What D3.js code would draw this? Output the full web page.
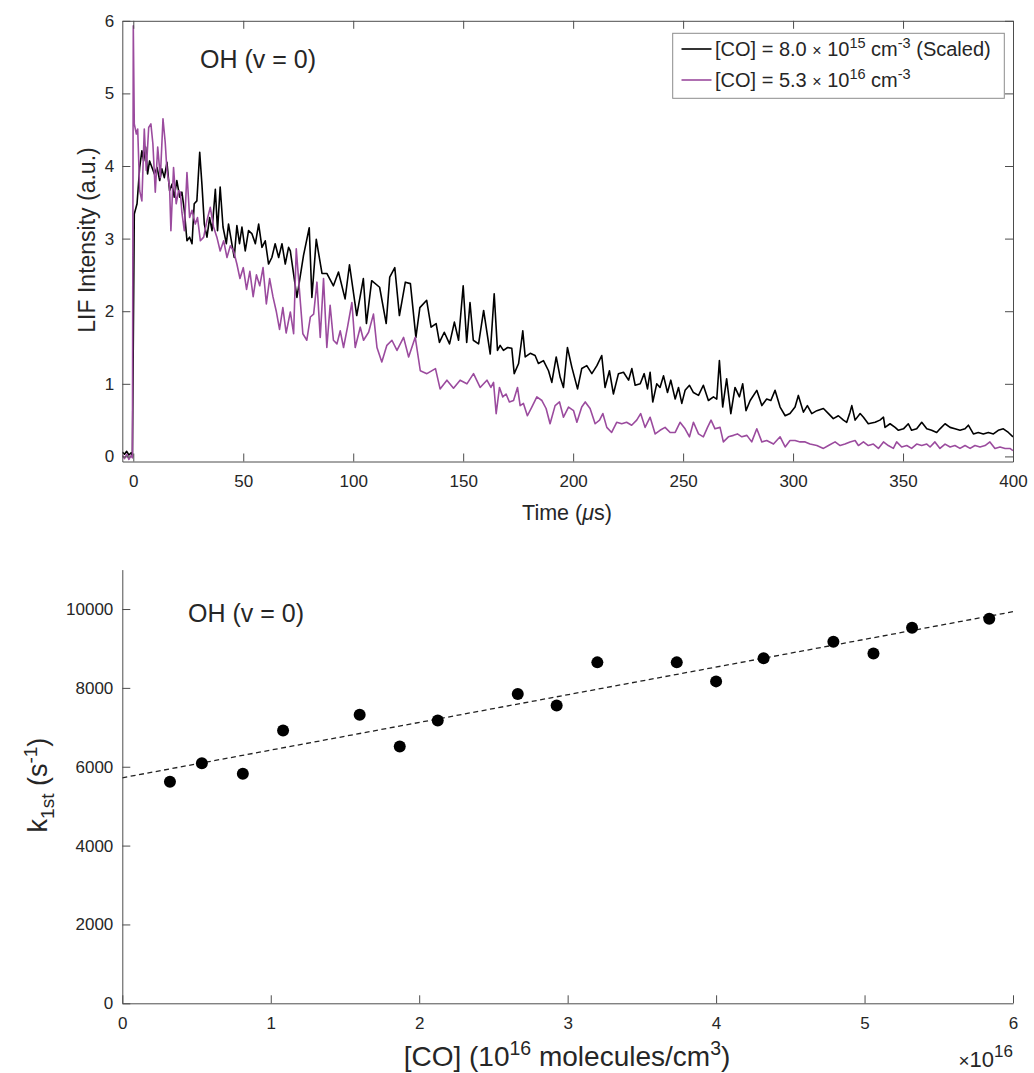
<!DOCTYPE html>
<html>
<head>
<meta charset="utf-8">
<script src="https://cdn.jsdelivr.net/npm/d3@7"></script>
<style>
  body { margin: 0; background: #fff; }
  text { font-family: "Liberation Sans", Arial, Helvetica, sans-serif; fill: #262626; }
</style>
</head>
<body>
<svg id="fig" width="1034" height="1073"></svg>
<script>
// ---------- Panel (a): OH (v = 0) LIF decay traces, [time µs, intensity a.u.] ----------
const lowCoTrace = [
[-5,0.06],[-4,0.03],[-3,0.07],[-2,0.02],[-1,0.05],[-0.4,0.0],[0.45,3.34],[1.7,3.48],[2.9,3.98],[3.9,4.21],[4.7,4.07],[5.6,4.26],[6.5,3.89],[7.4,4.07],[8.5,3.98],[9.6,3.89],[10.8,3.98],[12.0,3.80],[13.0,3.96],[14.1,3.84],[15.3,4.05],[16.5,3.66],[17.6,3.75],[18.6,3.57],[19.8,3.80],[21.1,3.57],[22.1,3.64],[23.2,3.39],[24.4,2.97],[25.6,3.02],[26.7,2.93],[27.7,3.48],[28.9,3.52],[30.2,4.19],[31.2,3.75],[32.3,3.20],[33.5,3.02],[34.7,3.29],[35.8,3.11],[37.3,3.68],[38.3,3.11],[39.5,3.71],[40.8,3.16],[42.3,2.93],[43.3,3.20],[44.8,2.93],[45.9,2.74],[47.1,3.18],[48.3,2.93],[49.4,3.16],[50.9,2.83],[52.4,3.11],[53.9,3.07],[55.5,2.93],[57.0,3.20],[58.5,2.88],[60.0,2.97],[61.5,2.65],[63.0,2.74],[64.5,2.93],[66.1,2.74],[67.6,2.93],[69.1,2.65],[70.6,2.88],[71.4,2.83],[74.4,2.19],[77.4,2.77],[80.0,3.15],[81.2,2.19],[83.2,2.99],[85.8,2.52],[88.0,2.52],[91.0,2.35],[93.3,2.54],[96.3,2.17],[98.3,2.64],[101.6,1.94],[104.6,2.45],[106.0,1.83],[108.4,2.42],[112.0,2.33],[115.0,1.83],[116.6,2.47],[118.9,2.60],[121.0,1.94],[123.7,2.40],[126.0,2.38],[128.5,1.64],[130.3,2.05],[133.4,2.15],[135.4,1.78],[137.7,1.83],[139.2,1.57],[141.4,1.71],[143.8,1.55],[146.0,1.85],[147.9,1.60],[150.0,2.35],[151.6,1.57],[153.1,2.12],[154.6,1.60],[157.0,1.55],[159.3,2.01],[162.3,1.41],[164.1,2.24],[165.6,1.46],[166.8,1.53],[168.3,1.46],[170.2,1.50],[172.1,1.49],[173.2,1.14],[175.2,1.28],[177.1,1.73],[178.2,1.37],[180.5,1.42],[182.7,1.39],[184.2,1.28],[186.5,1.32],[188.8,1.18],[190.3,1.02],[192.3,1.37],[194.1,1.09],[195.6,0.95],[197.4,1.50],[199.4,1.23],[202.0,0.93],[203.9,1.21],[206.2,1.25],[208.5,1.14],[210.8,1.25],[213.0,1.39],[214.5,0.95],[216.5,1.18],[218.3,0.86],[220.6,1.14],[222.9,1.16],[225.2,1.05],[226.7,1.21],[228.2,0.98],[230.5,1.00],[232.3,1.14],[233.8,0.93],[235.0,1.16],[236.2,0.75],[238.0,1.00],[239.5,0.95],[241.1,1.11],[242.9,0.88],[244.4,1.05],[246.4,0.79],[247.9,0.95],[249.4,0.73],[250.9,0.91],[252.9,0.98],[254.7,0.88],[257.0,0.84],[259.2,0.98],[261.5,0.77],[263.8,0.82],[265.3,0.79],[266.5,1.32],[268.0,0.68],[269.8,1.07],[271.7,0.59],[273.6,0.95],[275.6,0.82],[277.1,1.00],[278.6,0.63],[280.5,0.77],[283.5,0.91],[285.8,0.70],[288.0,0.79],[289.9,0.77],[291.8,0.91],[294.1,0.68],[296.4,0.56],[298.6,0.59],[300.9,0.68],[302.4,0.84],[304.7,0.61],[306.5,0.70],[308.5,0.59],[310.8,0.63],[313.8,0.66],[316.1,0.59],[318.3,0.52],[320.6,0.56],[322.9,0.50],[324.4,0.47],[325.9,0.61],[326.7,0.70],[328.2,0.50],[330.5,0.59],[332.0,0.54],[334.2,0.45],[337.3,0.47],[339.5,0.50],[341.1,0.54],[341.8,0.40],[344.1,0.45],[346.4,0.40],[347.9,0.36],[350.2,0.38],[352.4,0.45],[353.9,0.36],[356.2,0.38],[358.5,0.47],[360.8,0.38],[363.0,0.36],[365.3,0.33],[366.8,0.38],[369.1,0.45],[371.4,0.40],[373.6,0.38],[375.9,0.36],[378.2,0.38],[379.7,0.43],[382.0,0.31],[384.2,0.33],[386.5,0.31],[388.8,0.33],[391.1,0.31],[393.3,0.36],[395.6,0.38],[397.9,0.33],[400,0.27]
];

const highCoTrace = [
[-5,0.02],[-4,-0.03],[-3,0.03],[-2,-0.04],[-1,0.01],[-0.4,-0.02],[0,5.93],[0.45,4.58],[1.4,4.44],[2.0,4.51],[2.9,3.66],[3.9,3.52],[5.0,4.51],[5.9,3.94],[7.0,4.53],[8.0,4.58],[8.9,4.31],[10.0,3.64],[11.1,4.26],[12.3,3.84],[13.5,4.65],[14.5,4.33],[15.3,3.94],[16.5,3.71],[17.1,3.11],[18.3,3.98],[19.5,3.48],[20.6,3.66],[21.4,3.64],[22.1,3.36],[23.2,3.11],[24.4,3.91],[25.6,3.29],[26.7,3.39],[28.2,3.20],[29.2,3.29],[30.5,2.97],[32.0,3.02],[33.5,3.25],[35.0,3.43],[36.5,3.16],[38.0,3.02],[39.5,2.83],[41.1,2.97],[42.6,2.74],[44.1,2.90],[45.6,2.83],[47.1,2.65],[48.5,2.45],[50,2.6],[51.5,2.3],[53,2.55],[54.5,2.2],[56,2.5],[57.5,2.35],[59,2.6],[60.5,2.1],[62,2.45],[63.5,2.2],[65,2.0],[66.5,1.75],[68,2.05],[69.5,1.7],[71.4,1.99],[72.9,1.69],[74.1,2.86],[75.9,2.15],[77.1,1.69],[78.9,1.60],[80.5,1.92],[82.0,1.96],[83.5,2.40],[85.0,1.64],[86.5,2.45],[88.0,1.50],[89.5,2.08],[91.0,1.60],[92.6,1.55],[94.1,1.73],[95.6,1.50],[97.4,1.78],[99.4,2.12],[100.9,1.50],[103.2,1.78],[104.7,1.60],[107.0,1.71],[109.2,1.96],[110.8,1.50],[113.0,1.30],[115.3,1.53],[117.6,1.60],[119.9,1.46],[122.9,1.64],[125.2,1.37],[128.2,1.64],[130.5,1.18],[133.5,1.14],[137.4,1.21],[139.5,0.93],[142.6,1.05],[145.6,0.94],[148.6,1.05],[151.7,1.00],[154.7,1.14],[157.7,0.95],[160.8,1.05],[162.6,0.95],[163.8,1.02],[165.0,0.59],[166.5,0.95],[168.0,0.82],[169.5,0.86],[171.0,0.75],[172.9,0.77],[174.7,0.95],[175.9,0.70],[177.4,0.73],[179.2,0.56],[181.2,0.68],[183.5,0.82],[185.8,0.77],[187.7,0.66],[189.5,0.45],[191.8,0.70],[193.8,0.75],[195.6,0.54],[197.9,0.68],[200.2,0.63],[201.7,0.47],[203.9,0.68],[205.5,0.75],[207.7,0.66],[210.0,0.45],[212.0,0.50],[213.5,0.59],[215.3,0.40],[217.5,0.33],[219.8,0.47],[222.1,0.45],[224.3,0.47],[226.6,0.43],[228.9,0.50],[230.7,0.59],[232.7,0.40],[235.0,0.54],[237.3,0.31],[239.5,0.36],[241.8,0.40],[244.1,0.33],[246.4,0.33],[248.6,0.47],[250.9,0.38],[252.9,0.27],[254.7,0.47],[257.0,0.31],[259.2,0.27],[261.1,0.40],[262.7,0.50],[264.5,0.38],[266.8,0.40],[268.3,0.20],[270.6,0.27],[272.9,0.29],[274.7,0.31],[276.7,0.27],[279.0,0.29],[281.2,0.20],[283.5,0.38],[285.8,0.20],[288.0,0.22],[291.1,0.17],[294.1,0.27],[296.4,0.13],[298.6,0.22],[300.9,0.22],[303.2,0.20],[305.5,0.20],[307.7,0.17],[310.8,0.15],[313.8,0.11],[316.1,0.15],[319.1,0.20],[321.4,0.15],[323.6,0.17],[325.9,0.20],[328.2,0.22],[329.7,0.15],[332.0,0.20],[334.2,0.15],[336.5,0.17],[338.8,0.11],[341.1,0.20],[343.3,0.15],[345.6,0.11],[347.1,0.20],[349.4,0.13],[351.7,0.15],[353.9,0.11],[356.2,0.17],[358.5,0.15],[360.8,0.17],[362.3,0.13],[364.5,0.20],[366.8,0.11],[369.1,0.17],[371.4,0.13],[373.6,0.15],[375.9,0.11],[378.2,0.15],[380.5,0.11],[382.7,0.15],[385.0,0.13],[387.3,0.15],[389.5,0.20],[391.8,0.11],[394.1,0.13],[396.4,0.11],[398.6,0.11],[400,0.08]
];

const timeTicks = [0, 50, 100, 150, 200, 250, 300, 350, 400];
const intensityTicks = [0, 1, 2, 3, 4, 5, 6];

// ---------- Panel (b): pseudo-first-order rate vs [CO] ----------
const coConc = [0.321, 0.536, 0.812, 1.083, 1.599, 1.869, 2.125, 2.664, 2.926, 3.20, 3.735, 4.00, 4.32, 4.79, 5.06, 5.32, 5.84]; // 1e16 molecules/cm^3
const k1st = [5617, 6091, 5820, 6921, 7318, 6515, 7175, 7843, 7556, 8647, 8647, 8165, 8749, 9170, 8875, 9525, 9754];     // s^-1
const fitLine = [5720, 702]; // intercept (s^-1), slope (s^-1 per 1e16 cm^-3)
const concTicks = [0, 1, 2, 3, 4, 5, 6];
const kTicks = [0, 2000, 4000, 6000, 8000, 10000];

const BLACK = "#000000";
const PURPLE = "#9b4b9e";
const AXIS = "#4d4d4d";
const fmtInt = d3.format("d");

const svg = d3.select("#fig");

function styleAxis(g, labelSize) {
  g.select(".domain").attr("stroke", AXIS).attr("stroke-width", 1);
  g.selectAll(".tick line").attr("stroke", AXIS).attr("stroke-width", 1);
  g.selectAll(".tick text").attr("fill", "#262626")
    .style("font-family", "'Liberation Sans', Arial, sans-serif")
    .style("font-size", labelSize + "px");
}

// ================= Panel (a) =================
const xa = d3.scaleLinear().domain([-5, 400]).range([122.3, 1013]);
const ya = d3.scaleLinear().domain([-0.07, 6]).range([461.5, 20.8]);

const pa = svg.append("g");

pa.append("clipPath").attr("id", "clipA")
  .append("rect").attr("x", xa.range()[0]).attr("y", ya.range()[1])
  .attr("width", xa.range()[1] - xa.range()[0]).attr("height", ya.range()[0] - ya.range()[1]);

const lineA = d3.line().x(d => xa(d[0])).y(d => ya(d[1]));

pa.append("path").datum(lowCoTrace).attr("d", lineA)
  .attr("fill", "none").attr("stroke", BLACK).attr("stroke-width", 1.6)
  .attr("stroke-linejoin", "round").attr("clip-path", "url(#clipA)");
pa.append("path").datum(highCoTrace).attr("d", lineA)
  .attr("fill", "none").attr("stroke", PURPLE).attr("stroke-width", 1.6)
  .attr("stroke-linejoin", "round").attr("clip-path", "url(#clipA)");

// axes with inward ticks, mirrored on top/right (boxed)
const axBottomA = pa.append("g").attr("transform", `translate(0,${ya.range()[0]})`)
  .call(d3.axisBottom(xa).tickValues(timeTicks).tickFormat(fmtInt).tickSizeInner(-8).tickSizeOuter(0).tickPadding(13));
styleAxis(axBottomA, 17);
const axLeftA = pa.append("g").attr("transform", `translate(${xa.range()[0]},0)`)
  .call(d3.axisLeft(ya).tickValues(intensityTicks).tickFormat(fmtInt).tickSizeInner(-8).tickSizeOuter(0).tickPadding(8));
styleAxis(axLeftA, 17);
const axTopA = pa.append("g").attr("transform", `translate(0,${ya.range()[1]})`)
  .call(d3.axisTop(xa).tickValues(timeTicks).tickSizeInner(-8).tickSizeOuter(0).tickFormat(""));
styleAxis(axTopA, 17);
const axRightA = pa.append("g").attr("transform", `translate(${xa.range()[1]},0)`)
  .call(d3.axisRight(ya).tickValues(intensityTicks).tickSizeInner(-8).tickSizeOuter(0).tickFormat(""));
styleAxis(axRightA, 17);

// axis titles
const tA = pa.append("text").attr("x", 567).attr("y", 520).attr("text-anchor", "middle").style("font-size", "21.5px");
tA.append("tspan").text("Time (");
tA.append("tspan").text("\u03bc").style("font-style", "italic");
tA.append("tspan").text("s)");

pa.append("text").attr("transform", "translate(95,240) rotate(-90)")
  .attr("text-anchor", "middle").style("font-size", "23px").text("LIF Intensity (a.u.)");

pa.append("text").attr("x", 200).attr("y", 68).style("font-size", "25px").text("OH (v = 0)");

// legend
const lg = pa.append("g");
lg.append("rect").attr("x", 672.7).attr("y", 33.3).attr("width", 331.6).attr("height", 65)
  .attr("fill", "#fff").attr("stroke", "#8c8c8c").attr("stroke-width", 1);
const legendItems = [
  { color: BLACK, exp: "15", tail: " (Scaled)", val: "8.0", y: 49 },
  { color: PURPLE, exp: "16", tail: "", val: "5.3", y: 80 }
];
legendItems.forEach(it => {
  lg.append("line").attr("x1", 681.5).attr("x2", 711.5).attr("y1", it.y).attr("y2", it.y)
    .attr("stroke", it.color).attr("stroke-width", 1.6);
  const t = lg.append("text").attr("x", 715).attr("y", it.y + 7).style("font-size", "20px");
  t.append("tspan").text(`[CO] = ${it.val} `);
  t.append("tspan").text("\u00d7").style("font-size", "16px");
  t.append("tspan").text(" 10");
  t.append("tspan").text(it.exp).attr("dy", -8).style("font-size", "14.5px");
  t.append("tspan").text(" cm").attr("dy", 8);
  t.append("tspan").text("-3").attr("dy", -8).style("font-size", "14.5px");
  if (it.tail) t.append("tspan").text(it.tail).attr("dy", 8);
});

// ================= Panel (b) =================
const xb = d3.scaleLinear().domain([0, 6]).range([122.3, 1013]);
const yb = d3.scaleLinear().domain([0, 11000]).range([1003.3, 569.6]);

const pb = svg.append("g");

pb.append("line")
  .attr("x1", xb(0)).attr("y1", yb(fitLine[0]))
  .attr("x2", xb(6)).attr("y2", yb(fitLine[0] + fitLine[1] * 6))
  .attr("stroke", "#222").attr("stroke-width", 1.3).attr("stroke-dasharray", "5,3.5");

pb.selectAll("circle.pt").data(coConc.map((c, i) => [c, k1st[i]])).enter()
  .append("circle").attr("class", "pt")
  .attr("cx", d => xb(d[0])).attr("cy", d => yb(d[1])).attr("r", 6)
  .attr("fill", "#000");

const axBottomB = pb.append("g").attr("transform", `translate(0,${yb.range()[0]})`)
  .call(d3.axisBottom(xb).tickValues(concTicks).tickFormat(fmtInt).tickSizeInner(-8).tickSizeOuter(0).tickPadding(14));
styleAxis(axBottomB, 17);
const axLeftB = pb.append("g").attr("transform", `translate(${xb.range()[0]},0)`)
  .call(d3.axisLeft(yb).tickValues(kTicks).tickFormat(fmtInt).tickSizeInner(-8).tickSizeOuter(0).tickPadding(9));
styleAxis(axLeftB, 17);

pb.append("text").attr("x", 188).attr("y", 622).style("font-size", "25px").text("OH (v = 0)");

// x axis title with exponents
const tBx = pb.append("text").attr("x", 567).attr("y", 1066).attr("text-anchor", "middle").style("font-size", "28px");
tBx.append("tspan").text("[CO] (10");
tBx.append("tspan").text("16").attr("dy", -11).style("font-size", "19.5px");
tBx.append("tspan").text(" molecules/cm").attr("dy", 11);
tBx.append("tspan").text("3").attr("dy", -11).style("font-size", "19.5px");
tBx.append("tspan").text(")").attr("dy", 11);

// x axis multiplier
const mult = pb.append("text").attr("x", 1013).attr("y", 1067).attr("text-anchor", "end").style("font-size", "22px");
mult.append("tspan").text("\u00d7").style("font-size", "19px");
mult.append("tspan").text("10");
mult.append("tspan").text("16").attr("dy", -10).style("font-size", "17px");

// y axis title k_1st (s^-1)
const tBy = pb.append("text").attr("transform", "translate(47,785) rotate(-90)")
  .attr("text-anchor", "middle").style("font-size", "27px");
tBy.append("tspan").text("k");
tBy.append("tspan").text("1st").attr("dy", 7).style("font-size", "19px");
tBy.append("tspan").text(" (s").attr("dy", -7);
tBy.append("tspan").text("-1").attr("dy", -10).style("font-size", "19px");
tBy.append("tspan").text(")").attr("dy", 10);
</script>
</body>
</html>
